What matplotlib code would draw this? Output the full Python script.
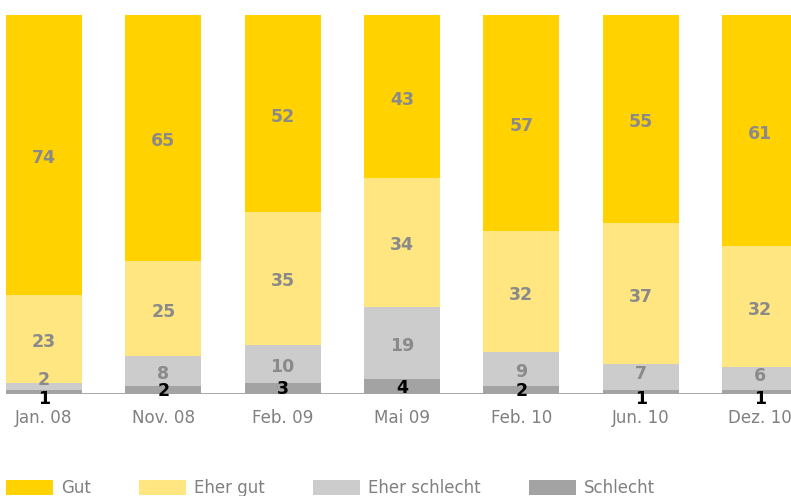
import numpy as np
import matplotlib
matplotlib.use("Agg")
import matplotlib.pyplot as plt
from matplotlib.patches import Patch

# survey share per wave (percent)
periods = ["Jan. 08", "Nov. 08", "Feb. 09", "Mai 09", "Feb. 10", "Jun. 10", "Dez. 10"]
gut = [74, 65, 52, 43, 57, 55, 61]
eher_gut = [23, 25, 35, 34, 32, 37, 32]
eher_schlecht = [2, 8, 10, 19, 9, 7, 6]
schlecht = [1, 2, 3, 4, 2, 1, 1]

colors = ["#FFD200", "#FFE680", "#CCCCCC", "#A3A3A3"]
names = ["Gut", "Eher gut", "Eher schlecht", "Schlecht"]
txt_gray = "#8A8A8A"

plt.rcParams['font.family'] = ['DejaVu Sans']

fig = plt.figure(figsize=(7.91, 4.96), dpi=100)
ax = fig.add_axes([6 / 791, 1 - 394 / 496, 1 - 6 / 791, (394 - 15) / 496])

x = np.arange(len(periods))
w = 0.637

# stack from the bottom: Schlecht, Eher schlecht, Eher gut, Gut
stack = [schlecht, eher_schlecht, eher_gut, gut]
stack_colors = [colors[3], colors[2], colors[1], colors[0]]
bottom = np.zeros(len(periods))
for k, (vals, c) in enumerate(zip(stack, stack_colors)):
    vals = np.array(vals)
    ax.bar(x, vals, w, bottom=bottom, color=c, linewidth=0)
    for xi, b, v in zip(x, bottom, vals):
        if k == 0:
            # black labels of the bottom segment, small ones sit below the line
            y = v / 2 - 0.3 if v >= 2 else -1.3
            ax.text(xi, y, str(v), ha="center", va="center",
                    fontsize=12.5, fontweight="bold", color="black")
        else:
            if v < 3:
                off = 1.8
            elif v < 8:
                off = 0.8
            else:
                off = -0.8
            ax.text(xi, b + v / 2 + off, str(v), ha="center", va="center",
                    fontsize=12.5, fontweight="bold", color=txt_gray)
    bottom = bottom + vals

ax.set_xlim(-w / 2, 6.26)
ax.set_ylim(0, 100)
ax.axhline(0, color="#999999", linewidth=1.2, zorder=0.5)
for s in ax.spines.values():
    s.set_visible(False)
ax.set_yticks([])
ax.set_xticks(x)
ax.set_xticklabels(periods, fontsize=12.1, color="#808080")
ax.tick_params(axis="x", length=0, pad=11)

handles = [Patch(facecolor=c, edgecolor="none") for c in colors]
fig.legend(handles, names, loc="upper left", bbox_to_anchor=(6 / 791, 1 - 479 / 496),
           ncol=4, frameon=False, fontsize=12, labelcolor="#808080",
           handlelength=2.8, handleheight=1.0, handletextpad=0.5,
           columnspacing=2.9, borderpad=0, borderaxespad=0)

fig.savefig("out.png", dpi=100)
